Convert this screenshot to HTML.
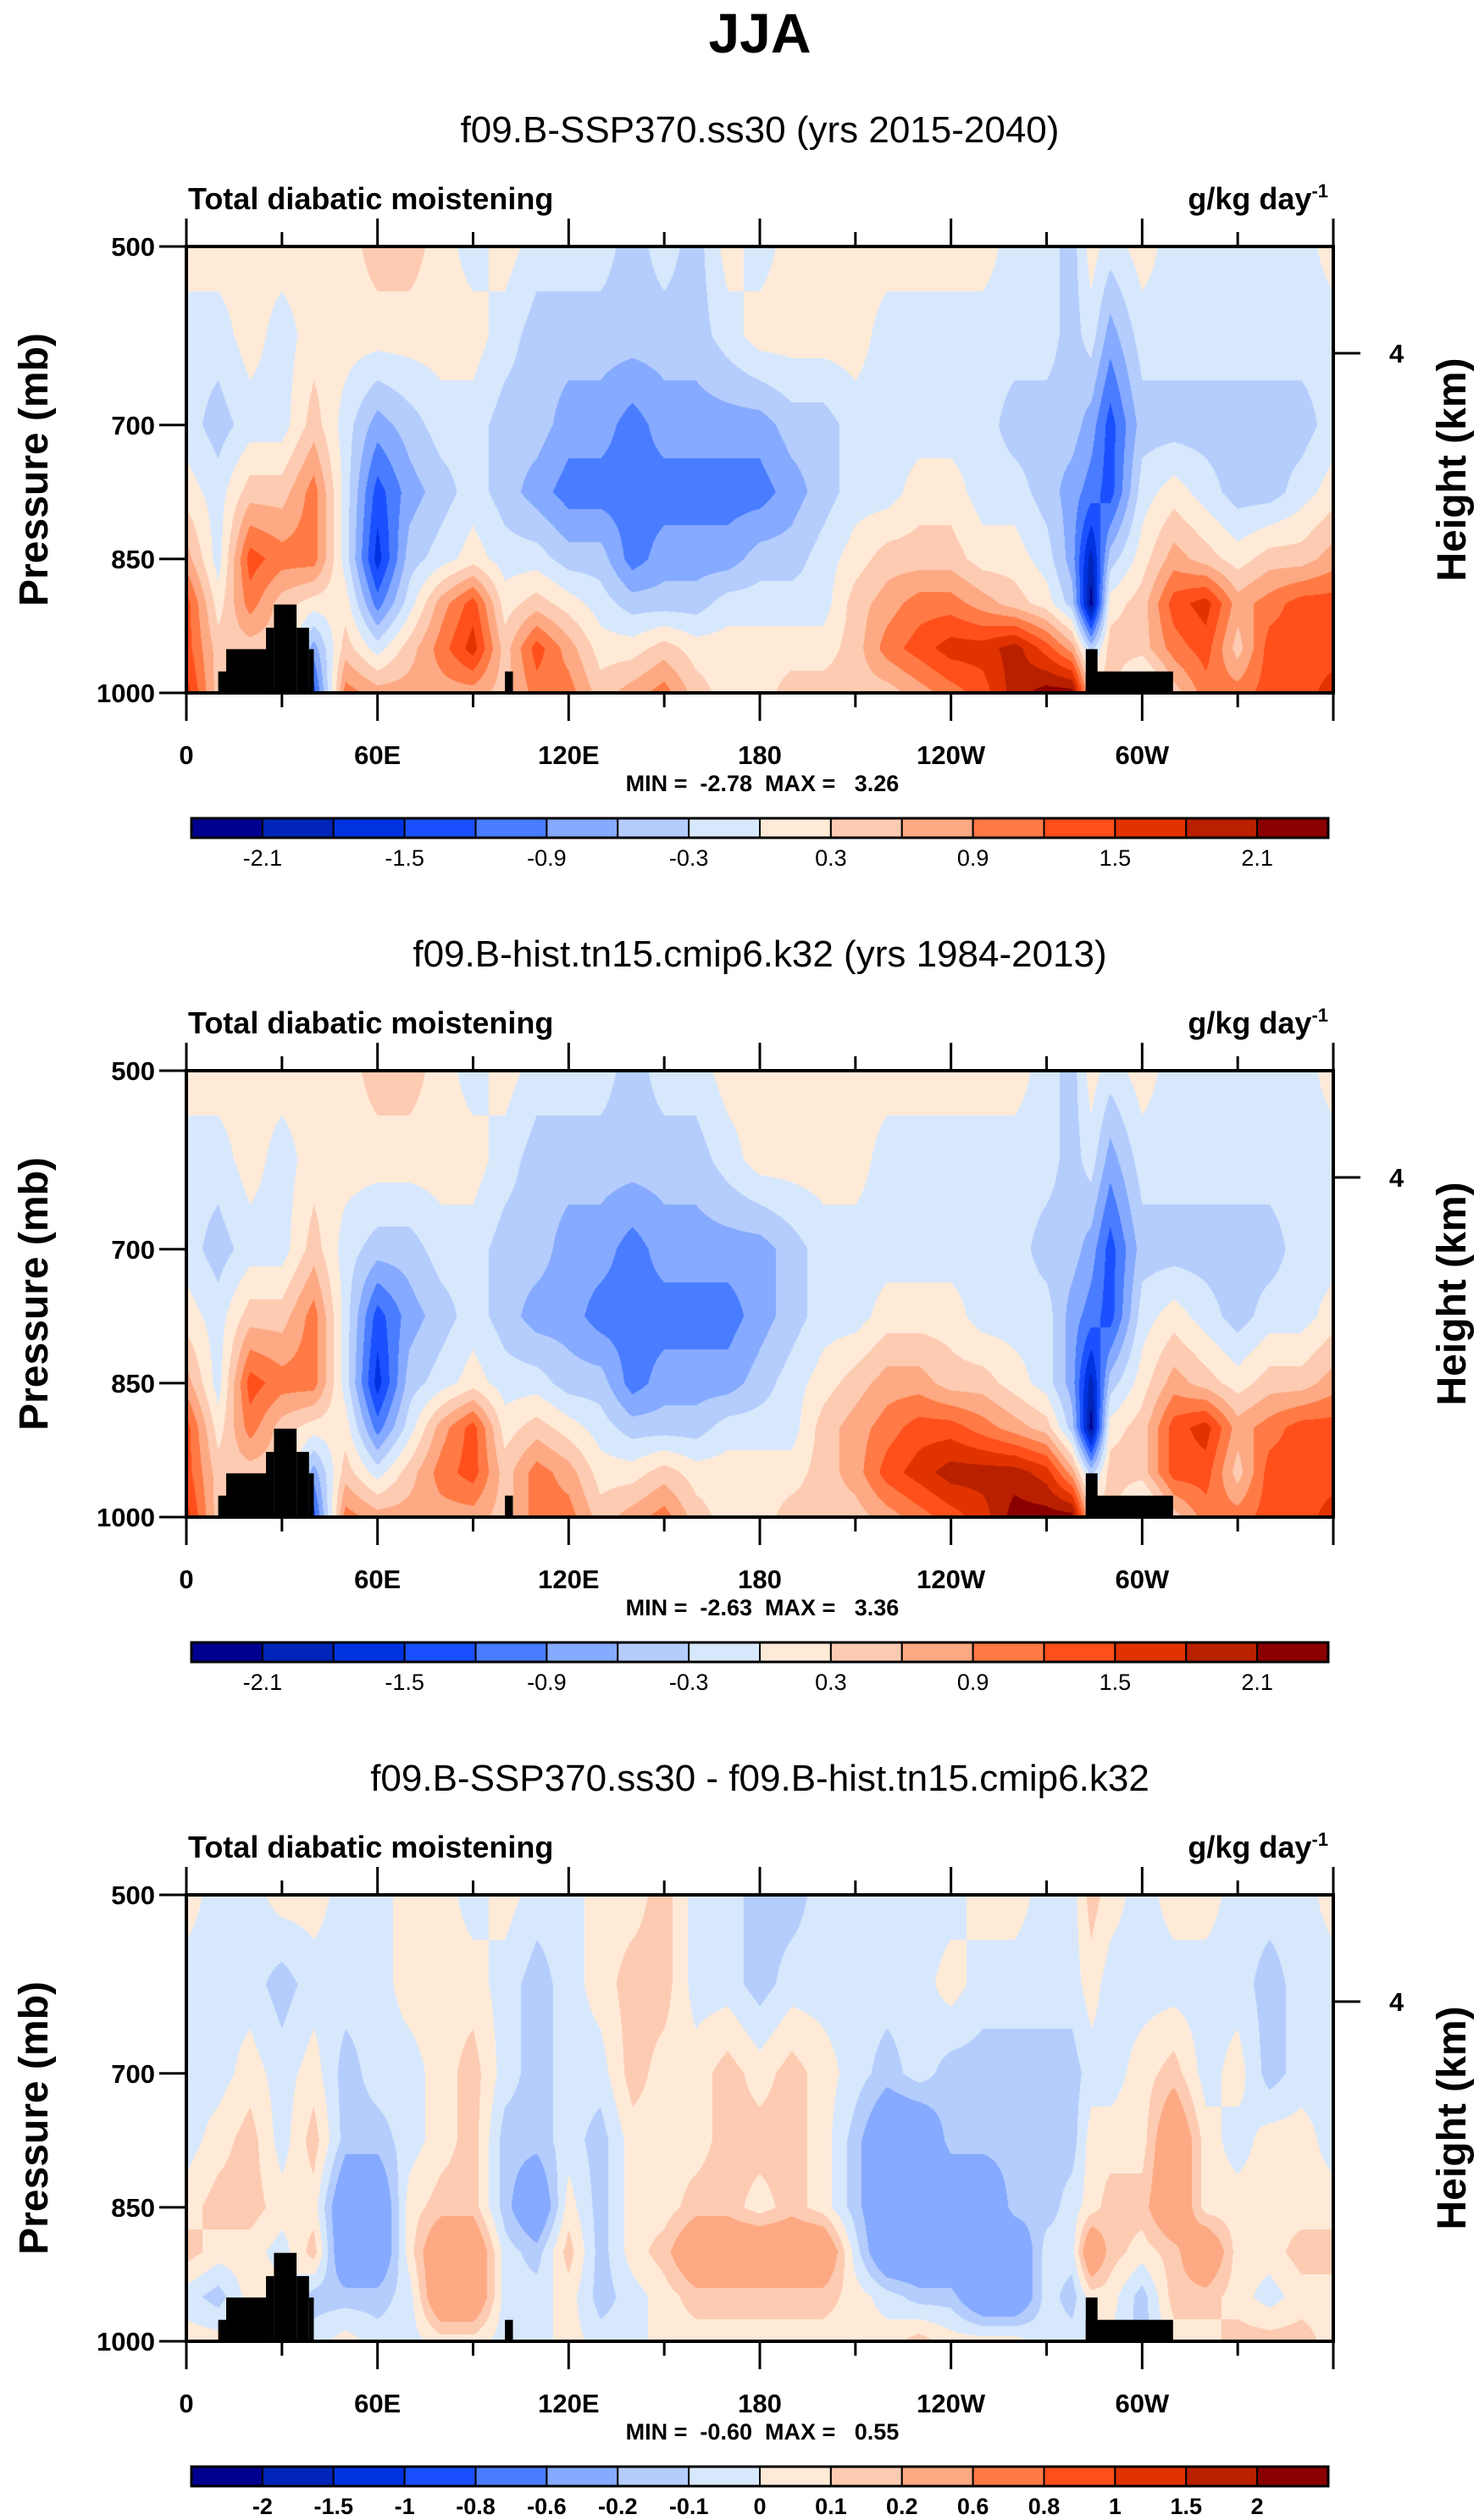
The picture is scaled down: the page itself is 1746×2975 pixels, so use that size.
<!DOCTYPE html>
<html><head><meta charset="utf-8">
<style>
html,body{margin:0;padding:0;background:#fff;}
#wrap{position:relative;width:1746px;height:2975px;overflow:hidden;background:#fff;font-family:"Liberation Sans",sans-serif;}
canvas{position:absolute;}
svg{position:absolute;left:0;top:0;}
</style></head>
<body>
<div id="wrap">
<canvas id="c0"></canvas>
<canvas id="c1"></canvas>
<canvas id="c2"></canvas>
<svg id="ov" width="1746" height="2975" xmlns="http://www.w3.org/2000/svg"></svg>
</div>
<script>
// ---- data ----
const lons = [0,10,20,30,40,50,60,70,80,90,100,110,120,130,140,150,160,170,180,190,200,210,220,230,240,250,260,270,278,284,290,300,310,320,330,340,350,360];
const levels = [500,600,700,775,850,900,950,1000];
const xTickLabels = ["0","60E","120E","180","120W","60W"];
const yTickValues = [500,700,850,1000];
const boundsAbs = [-2.1,-1.8,-1.5,-1.2,-0.9,-0.6,-0.3,0,0.3,0.6,0.9,1.2,1.5,1.8,2.1];
const boundsDiff = [-2,-1.5,-1,-0.8,-0.6,-0.2,-0.1,0,0.1,0.2,0.6,0.8,1,1.5,2];
const labelsAbs = ["","-2.1","","-1.5","","-0.9","","-0.3","","0.3","","0.9","","1.5","","2.1"];
const labelsDiff = ["-2","-1.5","-1","-0.8","-0.6","-0.2","-0.1","0","0.1","0.2","0.6","0.8","1","1.5","2"];
const palette = ['#000090','#0025b8','#0033e0','#1a50ff','#4a7cff','#85aaff','#b5cdfc','#d7e8fc','#ffead8','#fdcbb1','#fda983','#ff7a45','#ff4f1a','#e03300','#b82000','#8a0000'];
// topography blocks: [lonStart, lonEnd, pressureTop]
const topo = [[10,12.5,976],[12.5,25,951],[25,27.5,927],[27.5,34.6,901],[34.6,38.5,927],[38.5,40,951],[100,102.5,976],[282.3,286,951],[282.3,309.7,976]];
// each entry: values at levels (500..1000) for one longitude
const field1 = [
[.15,-.15,-.15,.15,.75,1.35,1.35,1.65],
[.15,-.15,-.45,-.15,-.15,.15,.45,.45],
[.15,.15,-.15,.45,1.35,1.05,.45,.45],
[.15,-.15,-.15,.45,1.05,.45,.45,.45],
[.15,.15,.45,1.05,1.05,.15,-.75,-1.35],
[.15,.15,-.15,-.15,-.15,.15,.45,1.05],
[.45,.15,-.75,-1.35,-1.65,-1.05,-.15,.75],
[.45,.15,-.45,-.75,-.45,-.15,.45,.75],
[.15,.15,-.15,-.45,-.15,.75,1.05,.75],
[-.15,.15,-.15,-.15,.15,1.35,1.65,.75],
[.15,-.15,-.45,-.45,-.15,.15,.45,.45],
[-.15,-.45,-.45,-.75,-.15,.45,1.35,1.05],
[-.15,-.45,-.75,-1.05,-.45,.15,.75,1.05],
[-.15,-.45,-.75,-1.05,-.45,-.15,.15,.45],
[-.45,-.45,-1.05,-1.05,-1.05,-.45,.15,.75],
[-.15,-.45,-.75,-1.05,-.75,-.45,.45,1.05],
[-.45,-.45,-.75,-1.05,-.75,-.45,.15,.45],
[.15,-.15,-.75,-1.05,-.75,-.15,.15,.15],
[-.15,.15,-.75,-1.05,-.45,-.15,.15,.15],
[.15,.15,-.45,-.75,-.45,-.15,.15,.45],
[.15,.15,-.45,-.45,-.15,-.15,.15,.45],
[.15,.15,-.15,-.15,.15,.45,.45,.45],
[.15,-.15,-.15,-.15,.45,.75,1.05,.45],
[.15,-.15,-.15,.15,.45,1.05,1.35,.75],
[.15,-.15,-.15,.15,.45,1.05,1.65,1.05],
[.15,-.15,-.15,-.15,.15,.75,1.65,1.35],
[-.15,-.15,-.45,-.15,.15,.45,1.95,1.95],
[-.15,-.15,-.45,-.45,-.15,.15,1.35,2.25],
[-.45,-.45,-.45,-.75,-.75,-.45,.75,2.25],
[.15,-.15,-.75,-1.05,-1.95,-2.25,-.45,.45],
[-.15,-.75,-1.35,-1.35,-.45,.15,.45,.45],
[.15,-.15,-.45,-.15,.15,.45,.45,-.45],
[-.15,-.15,-.45,.15,.75,1.35,1.05,.45],
[-.15,-.15,-.45,-.15,.45,1.65,1.35,1.05],
[-.15,-.15,-.45,-.45,.15,.75,.45,1.05],
[-.15,-.15,-.45,-.45,.45,1.05,1.35,1.35],
[-.15,-.15,-.45,-.15,.45,1.35,1.35,1.35],
[.15,-.15,-.15,.15,.75,1.35,1.35,1.65]];
const field2 = [
[.15,-.15,-.15,.15,.75,1.35,1.35,1.65],
[.15,-.15,-.45,-.15,-.15,.15,.45,.45],
[.15,.15,-.15,.45,1.35,1.05,.45,.45],
[.15,-.15,-.15,.45,1.05,.45,.45,.45],
[.15,.15,.45,1.05,1.05,.15,-.75,-1.35],
[.15,.15,-.15,-.15,-.15,.15,.45,1.05],
[.45,.15,-.45,-1.35,-1.65,-1.05,-.15,.75],
[.45,.15,-.45,-.75,-.45,-.15,.45,.75],
[.15,.15,-.15,-.45,-.15,.75,1.05,.75],
[-.15,.15,-.15,-.15,.15,1.35,1.35,.75],
[.15,-.15,-.45,-.45,-.15,.15,.45,.45],
[-.15,-.45,-.45,-.75,-.15,.45,1.05,1.05],
[-.15,-.45,-.75,-.75,-.45,.15,.75,1.05],
[-.15,-.45,-.75,-1.05,-.45,-.15,.15,.45],
[-.45,-.45,-1.05,-1.05,-1.05,-.45,.15,.75],
[-.15,-.45,-.75,-1.05,-.75,-.45,.45,1.05],
[-.15,-.45,-.75,-1.05,-.75,-.45,.15,.45],
[.15,-.15,-.75,-1.05,-.75,-.15,.15,.15],
[.15,.15,-.75,-.75,-.45,-.15,.15,.15],
[.15,.15,-.45,-.45,-.15,-.15,.15,.45],
[.15,.15,-.15,-.15,.15,.45,.45,.45],
[.15,.15,-.15,-.15,.45,.75,.75,.45],
[.15,-.15,-.15,.15,.75,1.05,1.35,.75],
[.15,-.15,-.15,.15,.75,1.35,1.65,1.05],
[.15,-.15,-.15,.15,.45,1.35,1.95,1.35],
[.15,-.15,-.15,-.15,.45,1.05,1.95,1.65],
[.15,-.15,-.15,-.15,.15,.75,1.95,2.25],
[-.15,-.15,-.45,-.15,-.15,.45,1.65,2.25],
[-.45,-.45,-.45,-.75,-.75,-.45,.75,2.25],
[.15,-.15,-.75,-1.05,-1.95,-2.25,-.45,.45],
[-.15,-.75,-1.35,-1.35,-.45,.15,.45,.45],
[.15,-.15,-.45,-.15,.15,.45,.45,-.45],
[-.15,-.15,-.45,.15,.75,1.35,1.35,.45],
[-.15,-.15,-.45,-.15,.45,1.65,1.35,1.05],
[-.15,-.15,-.45,-.45,.15,.75,.45,1.05],
[-.15,-.15,-.45,-.15,.45,1.05,1.35,1.35],
[-.15,-.15,-.15,-.15,.45,1.35,1.35,1.35],
[.15,-.15,-.15,.15,.75,1.35,1.35,1.65]];
const field3 = [
[.05,-.05,-.05,-.05,.05,.15,-.05,.05],
[-.05,-.05,-.05,.05,.15,.05,-.15,.05],
[-.05,-.05,.05,.15,.15,.05,.05,0],
[.05,-.15,-.05,-.05,.05,-.05,.05,0],
[.05,-.05,.05,.15,.05,.15,-.15,-.05],
[-.05,-.05,-.15,-.15,-.4,-.4,-.15,.05],
[-.05,-.05,-.05,-.15,-.4,-.4,-.15,-.05],
[.05,.05,-.05,-.05,.05,.05,-.05,-.05],
[.05,.05,.05,.05,.15,.4,.4,.05],
[-.05,.05,.15,.15,.15,.4,.4,.05],
[.05,-.05,-.05,-.15,-.15,-.05,-.05,-.05],
[-.05,-.15,-.15,-.15,-.4,-.15,-.05,-.05],
[-.05,-.05,-.05,-.05,.05,.15,.05,.05],
[.05,.05,-.05,-.15,-.15,-.15,-.15,-.05],
[.05,.15,.15,.05,.05,.05,-.05,-.05],
[.15,.15,.05,.05,.05,.15,.05,.05],
[-.05,-.05,.05,.05,.15,.4,.15,.05],
[-.05,-.05,.15,.15,.15,.4,.15,.05],
[-.15,-.15,.05,.15,.05,.4,.15,.05],
[-.15,-.05,.15,.15,.15,.4,.15,.05],
[-.05,-.05,.05,.05,.05,.4,.15,.05],
[-.05,-.05,-.05,-.15,-.15,-.05,.05,.05],
[-.05,-.05,-.15,-.4,-.4,-.4,-.05,.05],
[-.05,-.05,-.05,-.4,-.4,-.4,-.15,.15],
[-.05,.05,-.15,-.15,-.4,-.4,-.15,.05],
[.05,-.05,-.15,-.15,-.4,-.4,-.4,.05],
[.05,-.05,-.15,-.15,-.15,-.4,-.4,.05],
[-.05,-.05,-.15,-.15,-.15,-.05,-.05,-.05],
[-.05,-.05,-.15,-.15,-.05,-.05,-.15,-.05],
[.15,.05,-.05,.05,.05,.4,.05,0],
[.05,-.05,-.05,.05,.15,.15,.05,0],
[-.05,-.05,.05,.05,.15,.05,-.15,-.15],
[.05,-.05,.15,.4,.4,.15,.15,.05],
[.05,-.05,-.05,.05,.05,.4,.15,.05],
[-.05,-.05,.05,-.05,.05,.05,.05,.15],
[-.05,-.15,-.15,.05,.05,.05,-.05,.15],
[-.05,-.05,-.05,.05,.05,.15,.05,.15],
[.05,-.05,-.05,-.05,.05,.15,.05,.05]];
const subtitles = ["f09.B-SSP370.ss30 (yrs 2015-2040)","f09.B-hist.tn15.cmip6.k32 (yrs 1984-2013)","f09.B-SSP370.ss30 - f09.B-hist.tn15.cmip6.k32"];
const minMax = ["MIN =  -2.78  MAX =   3.26","MIN =  -2.63  MAX =   3.36","MIN =  -0.60  MAX =   0.55"];

// ---- layout ----
const PL=220, PR=1574, PH=527, panelTops=[291,1264,2237];
const PW=PR-PL;
function xOf(lon){return PL+lon/360*PW;}
function yOf(top,p){return top+(p-500)/500*PH;}
const NS="http://www.w3.org/2000/svg";
const ov=document.getElementById('ov');
function el(tag,attrs,parent){const e=document.createElementNS(NS,tag);for(const k in attrs)e.setAttribute(k,attrs[k]);(parent||ov).appendChild(e);return e;}
function hex(c){return [parseInt(c.slice(1,3),16),parseInt(c.slice(3,5),16),parseInt(c.slice(5,7),16)];}
const pal=palette.map(hex);

function drawField(ci,field,bounds){
  const cv=document.getElementById('c'+ci);
  cv.width=PW;cv.height=PH;cv.style.left=PL+'px';cv.style.top=panelTops[ci]+'px';
  const ctx=cv.getContext('2d');const img=ctx.createImageData(PW,PH);const d=img.data;
  const colIdx=[],colT=[];
  for(let x=0;x<PW;x++){const lon=(x+0.5)/PW*360;let i=0;while(i<lons.length-2&&lons[i+1]<lon)i++;colIdx.push(i);colT.push((lon-lons[i])/(lons[i+1]-lons[i]));}
  for(let y=0;y<PH;y++){
    const p=500+(y+0.5)/PH*500;let j=0;while(j<levels.length-2&&levels[j+1]<p)j++;
    const u=(p-levels[j])/(levels[j+1]-levels[j]);
    for(let x=0;x<PW;x++){
      const i=colIdx[x],t=colT[x];
      const a=field[i][j]*(1-u)+field[i][j+1]*u;
      const b=field[i+1][j]*(1-u)+field[i+1][j+1]*u;
      const v=a*(1-t)+b*t;
      let k=0;while(k<bounds.length&&v>=bounds[k])k++;
      const c=pal[k];const o=(y*PW+x)*4;d[o]=c[0];d[o+1]=c[1];d[o+2]=c[2];d[o+3]=255;
    }
  }
  ctx.putImageData(img,0,0);
}
drawField(0,field1,boundsAbs);
drawField(1,field2,boundsAbs);
drawField(2,field3,boundsDiff);

// title
let t=el('text',{x:897,y:62,'text-anchor':'middle','font-size':66,'font-weight':'bold','font-family':'Liberation Sans, sans-serif'});
t.textContent='JJA';



for(let pi=0;pi<3;pi++){
  const top=panelTops[pi],bot=top+PH;
  const g=el('g',{});
  
  
  let s=el('text',{x:897,y:top-123,'text-anchor':'middle','font-size':44,'font-family':'Liberation Sans, sans-serif'},g);
  s.textContent=subtitles[pi];
  
  
  s=el('text',{x:222,y:top-44,'font-size':36,'font-weight':'bold','font-family':'Liberation Sans, sans-serif'},g);
  s.textContent='Total diabatic moistening';
  
  
  s=el('text',{x:1568,y:top-44,'text-anchor':'end','font-size':36,'font-weight':'bold','font-family':'Liberation Sans, sans-serif'},g);
  s.innerHTML='g/kg day<tspan dy="-14" font-size="22">-1</tspan>';
  
  
  // topography
  topo.forEach(b=>{
    const r=el('rect',{x:xOf(b[0]),y:yOf(top,b[2]),width:xOf(b[1])-xOf(b[0]),height:bot-yOf(top,b[2]),fill:'#000'},g);
    
    
  });
  // frame
  const fr=el('rect',{x:PL,y:top,width:PW,height:PH,fill:'none',stroke:'#000','stroke-width':4},g);
  
  
  // x ticks
  for(let lon=0;lon<=360;lon+=30){
    const major=lon%60===0;const L=major?33:17;const x=xOf(lon);
    el('line',{x1:x,x2:x,y1:top,y2:top-L,stroke:'#000','stroke-width':3},g);
    el('line',{x1:x,x2:x,y1:bot,y2:bot+L,stroke:'#000','stroke-width':3},g);
  }
  xTickLabels.forEach((lb,i)=>{
    const tl=el('text',{x:xOf(i*60),y:bot+84,'text-anchor':'middle','font-size':31,'font-weight':'bold','font-family':'Liberation Sans, sans-serif'},g);
    tl.textContent=lb;
    
    
  });
  yTickValues.forEach(p=>{
    const y=yOf(top,p);
    el('line',{x1:PL,x2:PL-32,y1:y,y2:y,stroke:'#000','stroke-width':3},g);
    const tl=el('text',{x:183,y:y+11,'text-anchor':'end','font-size':31,'font-weight':'bold','font-family':'Liberation Sans, sans-serif'},g);
    tl.textContent=String(p);
    
    
  });
  const hy=top+0.239*PH;
  el('line',{x1:PR,x2:PR+32,y1:hy,y2:hy,stroke:'#000','stroke-width':3},g);
  s=el('text',{x:1640,y:hy+11,'font-size':31,'font-weight':'bold','font-family':'Liberation Sans, sans-serif'},g);
  s.textContent='4';
  
  
  const cy=top+PH/2;
  s=el('text',{x:0,y:0,'text-anchor':'middle','font-size':48,'font-weight':'bold','font-family':'Liberation Sans, sans-serif',transform:`translate(56,${cy}) rotate(-90)`},g);
  s.textContent='Pressure (mb)';
  
  
  s=el('text',{x:0,y:0,'text-anchor':'middle','font-size':48,'font-weight':'bold','font-family':'Liberation Sans, sans-serif',transform:`translate(1730,${cy}) rotate(-90)`},g);
  s.textContent='Height (km)';
  
  
  s=el('text',{x:900,y:bot+116,'text-anchor':'middle','font-size':27,'font-weight':'bold','font-family':'Liberation Sans, sans-serif','xml:space':'preserve'},g);
  s.textContent=minMax[pi];
  s.style.whiteSpace='pre';
  
  
  // colorbar
  const cbL=226,cbR=1568,cbT=bot+148,cbH=23,bw=(cbR-cbL)/16;
  const cb=el('g',{},g);
  
  
  palette.forEach((c,i)=>{
    const r=el('rect',{x:cbL+i*bw,y:cbT,width:bw,height:cbH,fill:c,stroke:'#000','stroke-width':2},cb);
    
    
  });
  el('rect',{x:cbL,y:cbT,width:cbR-cbL,height:cbH,fill:'none',stroke:'#000','stroke-width':3},cb);
  const labs=pi<2?labelsAbs.slice(1):labelsDiff;
  labs.forEach((lb,i)=>{
    if(!lb)return;
    const tl=el('text',{x:cbL+(i+1)*bw,y:cbT+cbH+33,'text-anchor':'middle','font-size':27,'font-weight':pi<2?'normal':'bold','font-family':'Liberation Sans, sans-serif'},cb);
    tl.textContent=lb;
    
    
  });
}
</script>
</body></html>
